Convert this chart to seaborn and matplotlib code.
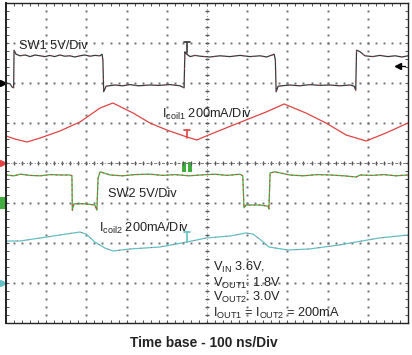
import numpy as np
import matplotlib
matplotlib.use("Agg")
import matplotlib.pyplot as plt
import seaborn as sns

# scope settings
TIME_PER_DIV = 100.0    # ns/div
SW_PER_DIV = 5.0        # V/div
IL_PER_DIV = 200.0      # mA/div

# channel ground positions (divisions above bottom of screen)
CH1_ZERO = 6.0
CH2_ZERO = 4.0
CH3_ZERO = 3.0
CH4_ZERO = 1.0
TRIG_LEVEL_V = 2.1
CURSOR_T = 450

# SW1 switch node (V)
sw1_t = [0, 10, 15, 19, 20, 25, 35, 48, 60, 72, 85, 97, 109, 121, 134, 146, 159, 171, 184, 196,
         209, 221, 234, 239, 241, 243, 249, 271, 290, 308, 330, 358, 380, 408, 433, 443, 445, 447, 458, 470,
         483, 507, 532, 557, 582, 607, 632, 648, 662, 667, 670, 672, 677, 706, 730, 756, 780, 806, 830,
         856, 866, 870, 872, 881, 893, 912, 930, 950, 968, 985, 1000]
sw1_v = [0, -0.1, -0.5, -0.6, 4.1, 3.6, 3.4, 3.5, 3.3, 3.5, 3.4, 3.3, 3.45, 3.3, 3.5, 3.35, 3.4, 3.25, 3.4, 3.5,
         3.35, 3.45, 3.4, 3.6, 2.9, -1.1, -0.4, -0.25, -0.35, -0.2, -0.35, -0.25, -0.3, -0.2, -0.35, -0.6, 3.9, 3.7, 3.3, 3.45,
         3.35, 3.25, 3.4, 3.3, 3.45, 3.3, 3.4, 3.25, 3.5, 3.6, 2.9, -1.1, -0.4, -0.25, -0.35, -0.2, -0.3, -0.25, -0.35,
         -0.25, -0.4, -0.9, 4.1, 3.9, 3.4, 3.3, 3.45, 3.3, 3.4, 3.25, 3.4]

# coil 1 current (mA)
il1_t = [0, 22, 52, 85, 134, 184, 234, 266, 316, 358, 400, 450, 475,
         498, 547, 597, 647, 692, 746, 796, 846, 896, 945, 1000]
il1_ma = [135, 120, 105, 125, 160, 205, 275, 300, 250, 200, 165, 130, 115,
          135, 175, 215, 255, 295, 250, 200, 140, 110, 150, 200]

# SW2 switch node (V)
sw2_t = [0, 20, 35, 60, 85, 110, 134, 159, 164, 165, 169, 197, 221, 226, 229, 234, 259, 290, 320, 358,
         390, 420, 455, 483, 520, 550, 582, 589, 592, 597, 632, 652, 654, 657, 669, 706, 740, 775,
         806, 840, 871, 881, 910, 940, 970, 1000]
sw2_v = [3.5, 3.4, 3.6, 3.45, 3.4, 3.55, 3.5, 3.5, 3.4, -0.9, -0.1, -0.1, -0.25, -0.9, 3.1, 3.9, 3.5, 3.4, 3.55, 3.6,
         3.45, 3.55, 3.4, 3.5, 3.6, 3.45, 3.6, 3.4, -0.6, -0.25, -0.25, -0.4, -0.75, 3.75, 3.9, 3.5, 3.4, 3.55,
         3.5, 3.4, 3.25, 3.5, 3.45, 3.55, 3.4, 3.5]

# coil 2 current (mA)
il2_t = [0, 35, 85, 134, 184, 199, 221, 246, 266, 308, 383, 450, 498, 557, 597, 614,
         634, 654, 701, 754, 828, 928, 1000]
il2_ma = [210, 210, 225, 240, 255, 245, 205, 175, 160, 170, 180, 205, 225, 235, 250, 245,
          215, 180, 165, 170, 190, 225, 240]

BLACK = "#3a3a3a"
RED = "#e04343"
GREEN = "#3fae3f"
CYAN = "#62c1c6"
GRID = "#6e6e6e"

sns.set_theme(style="white")
plt.rcParams["font.family"] = ["Liberation Sans", "DejaVu Sans"]

fig = plt.figure(figsize=(4.12, 3.55), dpi=100)
ax = fig.add_axes([6 / 412, 32 / 355, 402 / 412, 320 / 355])
ax.set_xlim(0, 10)
ax.set_ylim(0, 8)

# graticule: dotted lines every division, finer dots along them
fine = np.arange(0, 10.01, 0.2)
fine_y = np.arange(0, 8.01, 0.2)
for gx in range(1, 10):
    ax.plot(np.full_like(fine_y, gx), fine_y, ls="none", marker="s", ms=1.4, color=GRID, mew=0)
for gy in range(1, 8):
    ax.plot(fine, np.full_like(fine, gy), ls="none", marker="s", ms=1.4, color=GRID, mew=0)
# center cross with tick marks
ax.plot(fine, np.full_like(fine, 4), ls="none", marker="|", ms=3.5, mew=0.8, color="#555555")
ax.plot(np.full_like(fine_y, 5), fine_y, ls="none", marker="_", ms=3.5, mew=0.8, color="#555555")
ax.axhline(4, color="#777777", lw=0.7, ls=(0, (3, 2, 1, 2)))
ax.axvline(5, color="#777777", lw=0.6, ls=(0, (1, 3)))

# traces
def draw(t, vals, zero, per_div, color, lw=0.9):
    x = np.asarray(t) / TIME_PER_DIV
    y = zero + np.asarray(vals) / per_div
    sns.lineplot(x=x, y=y, sort=False, estimator=None, color=color, lw=lw, ax=ax)
    return x, y

x1, y1 = draw(sw1_t, sw1_v, CH1_ZERO, SW_PER_DIV, BLACK)
ax.plot(x1, y1, color=RED, lw=0.7, ls=(0, (1, 9)))
draw(il1_t, il1_ma, CH2_ZERO, IL_PER_DIV, RED)
x3, y3 = draw(sw2_t, sw2_v, CH3_ZERO, SW_PER_DIV, GREEN)
ax.plot(x3, y3, color=RED, lw=0.8, ls=(0, (1.5, 3)))
x4, y4 = draw(il2_t, il2_ma, CH4_ZERO, IL_PER_DIV, CYAN)
ax.plot(x4, y4, color=RED, lw=0.6, ls=(0, (1, 12)))

# cursor "T" markers
cx = CURSOR_T / TIME_PER_DIV
for top, bot, col in [(7.02, 6.75, BLACK), (4.83, 4.62, RED), (2.28, 2.03, CYAN)]:
    ax.plot([cx, cx], [top, bot], color=col, lw=1.2)
    ax.plot([cx - 0.07, cx + 0.07], [top, top], color=col, lw=1.2)
ax.add_patch(plt.Rectangle((4.38, 3.78), 0.1, 0.24, color=GREEN, lw=0))
ax.add_patch(plt.Rectangle((4.52, 3.78), 0.1, 0.24, color=GREEN, lw=0))

# ground / trigger markers
ax.plot([-0.08], [CH1_ZERO], marker=">", ms=5, color="black", clip_on=False)
ax.plot([-0.08], [CH2_ZERO], marker=">", ms=5, color=RED, clip_on=False)
ax.add_patch(plt.Rectangle((-0.15, CH3_ZERO - 0.15), 0.12, 0.3, color=GREEN, lw=0, clip_on=False))
ax.plot([-0.08], [CH4_ZERO], marker=">", ms=4, color=CYAN, clip_on=False)
trig_y = CH1_ZERO + TRIG_LEVEL_V / SW_PER_DIV
ax.plot([9.72, 9.92], [trig_y, trig_y], color="black", lw=0.9)
ax.plot([9.75], [trig_y], marker="<", ms=4.5, color="black")

# labels
fs = 9.2
ax.text(0.32, 6.85, "SW1 5V/Div", fontsize=fs, color="#222222")
ax.text(3.88, 5.125, r"$\mathregular{I_{coil1}}$ 200mA/Div", fontsize=fs, color="#222222")
ax.text(2.54, 3.15, "SW2 5V/Div", fontsize=fs, color="#222222")
ax.text(2.31, 2.275, r"$\mathregular{I_{coil2}}$ 200mA/Div", fontsize=fs, color="#222222")
ax.text(5.15, 1.31, r"$\mathregular{V_{IN}}$ 3.6V,", fontsize=fs, color="#222222")
ax.text(5.15, 0.91, r"$\mathregular{V_{OUT1}}$: 1.8V", fontsize=fs, color="#222222")
ax.text(5.15, 0.56, r"$\mathregular{V_{OUT2}}$: 3.0V", fontsize=fs, color="#222222")
ax.text(5.15, 0.16, r"$\mathregular{I_{OUT1}}$ = $\mathregular{I_{OUT2}}$ = 200mA", fontsize=fs, color="#222222")

# frame and border ticks
for name, s in ax.spines.items():
    s.set_color("#222222")
    s.set_linewidth(1.4 if name == "left" else 1.0)
ax.set_xticks(np.arange(0, 10.01, 1))
ax.set_yticks(np.arange(0, 8.01, 1))
ax.set_xticks(fine, minor=True)
ax.set_yticks(fine_y, minor=True)
ax.tick_params(which="both", direction="in", length=2.2, width=0.6, color="#333333",
               top=True, right=True, bottom=True, left=True,
               labelbottom=False, labelleft=False)
ax.set_xlabel("")
ax.set_ylabel("")

fig.text(203.5 / 412, 8 / 355, "Time base - 100 ns/Div", ha="center", va="baseline",
         fontsize=9.9, fontweight="bold", color="#222222")

fig.savefig("out.png", dpi=100)
